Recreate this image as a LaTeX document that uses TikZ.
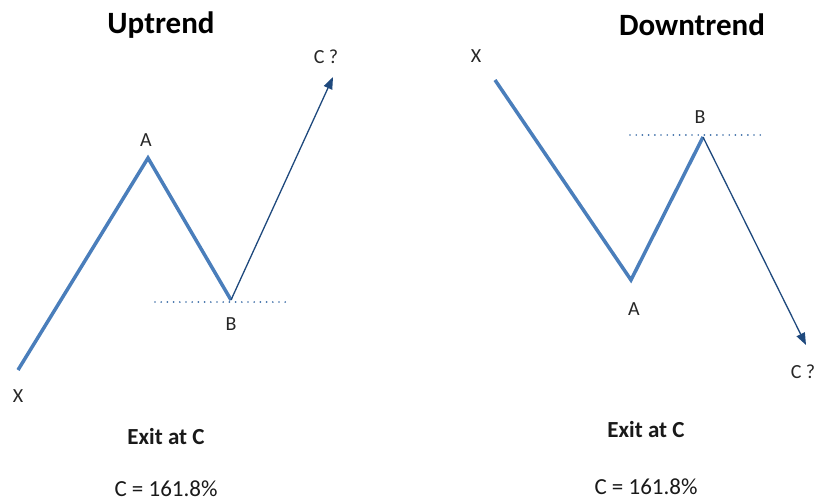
\documentclass[tikz,border=0pt]{standalone}
\usepackage{fontspec}
\setmainfont{Carlito}
\usetikzlibrary{arrows.meta}
\definecolor{waveblue}{HTML}{4A7EBB}
\definecolor{arrowblue}{HTML}{1F497D}
\definecolor{dotblue}{HTML}{3F6FA8}
\begin{document}
\begin{tikzpicture}[x=1pt,y=-1pt,
  wave/.style={waveblue,line width=3.5pt,line join=miter},
  proj/.style={arrowblue,line width=1.3pt,-{Triangle[length=12pt,width=9pt]}},
  level/.style={dotblue,line width=1.9pt,line cap=round,dash pattern=on 0pt off 6.2pt},
  ttl/.style={font=\fontsize{31}{36}\selectfont\bfseries},
  lbl/.style={font=\fontsize{20}{23}\selectfont,text=black!85},
  note/.style={font=\fontsize{23}{26}\selectfont,text=black!90},
  bnote/.style={font=\fontsize{23}{26}\selectfont\bfseries,text=black!90}]
\useasboundingbox (0,0) rectangle (821,501);
% Uptrend
\coordinate (uX) at (18,370);
\coordinate (uA) at (148,158);
\coordinate (uB) at (231,300);
\coordinate (uC) at (333,77);
\coordinate (uL1) at (155,302);
\coordinate (uL2) at (288,302);
\draw[level] (uL1) -- (uL2);
\draw[wave] (uX) -- (uA) -- (uB);
\draw[proj] (uB) -- (uC);
\node[ttl] (ut) at (161,25) {Uptrend};
\node[lbl] (uAl) at (146,140) {A};
\node[lbl] (uBl) at (231,324) {B};
\node[lbl] (uXl) at (18,396) {X};
\node[lbl] (uCl) at (326,57) {C ?};
\node[bnote] (ue) at (166,437) {Exit at C};
\node[note] (uf) at (166,489) {C = 161.8\%};
% Downtrend
\coordinate (dX) at (495,80);
\coordinate (dA) at (631,280);
\coordinate (dB) at (703,137);
\coordinate (dC) at (806,345);
\coordinate (dL1) at (630,135);
\coordinate (dL2) at (765,135);
\draw[level] (dL1) -- (dL2);
\draw[wave] (dX) -- (dA) -- (dB);
\draw[proj] (dB) -- (dC);
\node[ttl] (dt) at (692,25) {Downtrend};
\node[lbl] (dXl) at (476,56) {X};
\node[lbl] (dBl) at (700,117) {B};
\node[lbl] (dAl) at (634,309) {A};
\node[lbl] (dCl) at (803,372) {C ?};
\node[bnote] (de) at (646,430) {Exit at C};
\node[note] (df) at (646,487) {C = 161.8\%};
\end{tikzpicture}
\end{document}
